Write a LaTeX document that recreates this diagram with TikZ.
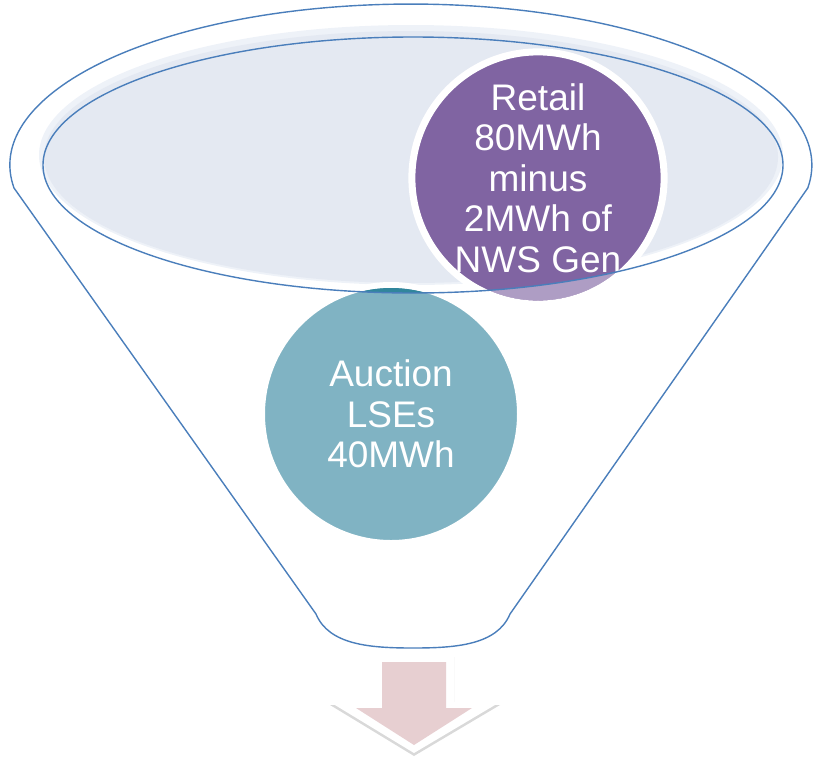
\documentclass[tikz,border=0pt]{standalone}
\usepackage{fontspec}
\newfontfamily\arialf{Liberation Sans}
\usetikzlibrary{shadows}
\definecolor{outline}{HTML}{4A7EBB}
\definecolor{halo}{HTML}{EEF2F8}
\definecolor{bowl}{HTML}{E4E9F2}
\definecolor{purp}{HTML}{8064A2}
\definecolor{teal}{HTML}{80B3C3}
\definecolor{darkteal}{HTML}{31869C}
\definecolor{pink}{HTML}{E7CFD1}
\tikzset{
  funnelline/.style={draw=outline, line width=1.4pt, line join=round},
  ball/.style={circle, draw=white, text=white, align=center, inner sep=0pt,
    font=\arialf\fontsize{37}{40.5}\selectfont,
    drop shadow={shadow xshift=1pt, shadow yshift=-2pt, opacity=0.25}},
}
\begin{document}
\begin{tikzpicture}[x=1pt,y=-1pt]
\useasboundingbox (0,0) rectangle (814,756);
% bowl fill
\fill[halo] (411,155) ellipse [x radius=372, y radius=130];
\fill[bowl] (411,157) ellipse [x radius=367, y radius=126];
% teal circle
\node[ball, fill=teal, line width=6pt, minimum size=258pt] (auction) at (391,414) {Auction\\LSEs\\40MWh};
\begin{scope}
  \clip (413,165) ellipse [x radius=370, y radius=128];
  \fill[darkteal] (auction.center) circle [radius=126pt];
\end{scope}
% purple circle
\node[ball, fill=purp, line width=7pt, minimum size=252pt] (retail) at (538,178) {Retail\\80MWh\\minus\\2MWh of\\NWS Gen};
\begin{scope}[even odd rule]
  \clip (0,0) rectangle (814,756) (413,165) ellipse [x radius=370, y radius=128];
  \fill[white, opacity=0.37] (retail.center) circle [radius=122.5pt];
\end{scope}
% funnel outline
\draw[funnelline] (14,188) arc[start angle=171.8, end angle=368.2, x radius=401, y radius=161]
  -- (510,614) .. controls (497,645) and (456,648) .. (413,648)
  .. controls (370,648) and (329,645) .. (316,614) -- cycle;
\draw[funnelline] (413,165) ellipse [x radius=370, y radius=128];
% arrow
\fill[white, drop shadow={shadow xshift=0pt, shadow yshift=-3pt, opacity=0.3}]
  (374,654) -- (454,654) -- (454,702) -- (500,702) -- (414,753) -- (330,702) -- (374,702) -- cycle;
\fill[pink] (382,662) -- (446,662) -- (446,708) -- (472,708) -- (414,745) -- (356,708) -- (382,708) -- cycle;
\end{tikzpicture}
\end{document}
